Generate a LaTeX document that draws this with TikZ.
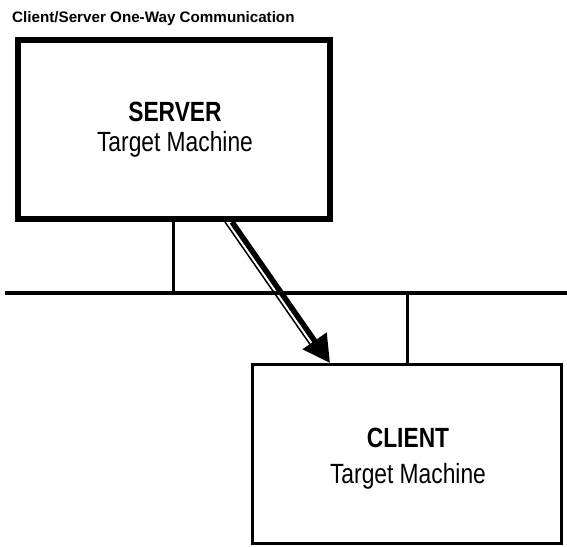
\documentclass[tikz,border=0pt]{standalone}
\usepackage{fontspec}
\setmainfont{Liberation Sans}
\newfontfamily\narrowfont[FakeStretch=0.82]{Liberation Sans}
\usetikzlibrary{calc,arrows.meta}

\tikzset{
  machine/.style={draw,rectangle,inner sep=0pt},
  boxtitle/.style={anchor=base,inner sep=0pt,font=\narrowfont\bfseries\fontsize{27.8}{30}\selectfont},
  boxtext/.style={anchor=base,inner sep=0pt,font=\narrowfont\fontsize{27.8}{30}\selectfont},
  wire/.style={line width=3.5pt}
}

\begin{document}
\begin{tikzpicture}[x=1pt,y=-1pt]
\useasboundingbox (0,0) rectangle (567,546);
% Title
\node[anchor=base west,inner sep=0pt,font=\bfseries\fontsize{15.2}{18}\selectfont] (title) at (12,22) {Client/Server One-Way Communication};
% Draw the two machines
\node[machine,line width=6pt,minimum width=312pt,minimum height=179pt] (server) at (174,129.5) {};
\node[machine,line width=3pt,minimum width=309pt,minimum height=179pt] (client) at (407,454) {};
% Label the machines
\node[boxtitle] (servername) at (175,121) {SERVER};
\node[boxtext] (servertext) at (175,151) {Target Machine};
\node[boxtitle] (clientname) at (408,447) {CLIENT};
\node[boxtext] (clienttext) at (408,483) {Target Machine};
% Network bus and taps
\coordinate (busL) at (5,293);
\coordinate (busR) at (567,293);
\draw[wire] (busL) -- (busR);
\coordinate (tapS) at ($(server.south)+(-1,0)$);
\draw[wire,line width=3pt] (tapS) -- (tapS |- busL);
\draw[wire,line width=3pt] (client.north) -- (client.north |- busL);
% Data flow from server to client
\coordinate (flowS) at ($(server.south)+(58,0)$);
\coordinate (flowE) at ($(client.north)+(-77,0)$);
\draw[line width=5.5pt,-{Triangle[length=27pt,width=28pt]}] (flowS) -- (flowE);
\draw[line width=1.5pt] ($(flowS)+(-7,0)$) -- ($($(flowE)!22pt!(flowS)$)+(-7,0)$);
\end{tikzpicture}
\end{document}
